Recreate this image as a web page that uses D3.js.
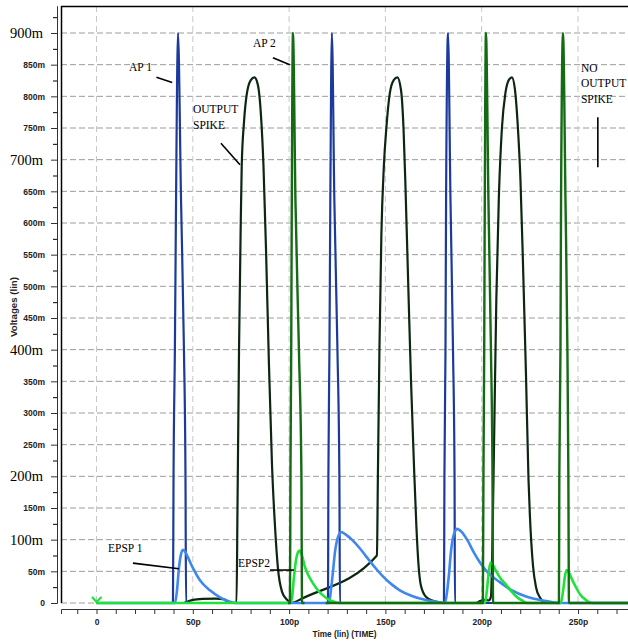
<!DOCTYPE html>
<html>
<head>
<meta charset="utf-8">
<script src="https://cdn.jsdelivr.net/npm/d3@7"></script>
<style>
  body { margin: 0; background: #fff; }
  svg { display: block; }
</style>
</head>
<body>
<div id="chart"></div>
<script>
const width = 628;
const height = 641;
const plotLeft = 61;
const plotRight = 628;
const plotTop = 6;

// time in ps, voltage in mV
var yTicks = [0, 50, 100, 150, 200, 250, 300, 350, 400, 450, 500, 550, 600, 650, 700, 750, 800, 850, 900];
var yBigTicks = [100, 200, 400, 700, 900];
var xTicks = [0, 50, 100, 150, 200, 250];

// AP 1 (dark blue)
var ap1 = [[0, 0],
  [39.7, 0], [40.0, 200], [40.7, 400], [41.3, 635], [42.3, 900], [43.9, 635], [45.4, 400], [46.2, 200], [46.5, 0],
  [120.2, 0], [120.4, 200], [120.95, 400], [121.4, 635], [122.2, 900], [123.5, 635], [125.1, 400], [126.1, 200], [126.4, 0],
  [180.4, 0], [180.65, 200], [181.2, 400], [181.5, 635], [182.5, 900], [183.8, 635], [185.1, 400], [185.9, 200], [186.1, 0],
  [280, 0]];

// AP 2 (dark green)
var ap2 = [[99.5, 0],
  [100.45, 0], [100.7, 200], [101.1, 400], [101.4, 635], [102.0, 900], [103.3, 635], [105.1, 400], [106.4, 200], [106.7, 0],
  [108, 0], [113, null], [119, 0],
  [200.6, 0], [200.9, 200], [201.3, 400], [201.6, 635], [202.2, 900], [203.5, 635], [204.8, 400], [205.6, 200], [205.9, 0],
  [240.1, 0], [240.3, 200], [240.9, 400], [241.2, 635], [242.2, 900], [243.5, 635], [244.5, 400], [245.0, 200], [245.3, 0],
  [280, 0]];

// output neuron (black)
var output = [[0, 0], [45, 0], [47, 2], [50, 5], [55, 6.5], [62, 7], [66, 6], [67.5, 3], [68.5, 0],
  [72.7, 0], [73.2, 150], [74.0, 400], [74.8, 580], [75.4, 690], [76.6, 760], [78.1, 805], [80.2, 826], [82.0, 830],
  [83.8, 818], [85.4, 770], [86.7, 690], [88.0, 560], [89.5, 380], [91.1, 220], [92.7, 120], [94.2, 55],
  [96.3, 18], [98.9, 5], [101.5, 0], [103, 1.5], [106, 6], [145.6, 75],
  [146.1, 200], [146.9, 400], [147.9, 580], [149.2, 690], [150.5, 750], [152.3, 805], [154.4, 826], [156.2, 830],
  [158.1, 810], [159.4, 750], [160.4, 660], [161.7, 520], [163.3, 350], [164.8, 220], [166.1, 120], [167.2, 60],
  [168.4, 28], [171.0, 10], [175.2, 3], [179.4, 0],
  [197.0, 0], [199.1, 3], [201.7, 5], [203.7, 4], [204.8, 10], [205.6, 100], [206.4, 250], [207.6, 480], [208.9, 640],
  [210.5, 750], [212.3, 805], [214.1, 826], [215.7, 830], [217.2, 812], [218.8, 750], [220.1, 670], [221.4, 540],
  [223.0, 360], [224.3, 195], [225.0, 140], [226.6, 60], [228.2, 25], [230.2, 9], [233.3, 0],
  [280, 0]];

// EPSP 1 (light blue)
var epsp1 = [[0, 0],
  [40.75, 0], [41.8, 20], [42.8, 55], [43.8, 76], [44.9, 84], [46.2, 80], [47.5, 72], [50.1, 55], [53.7, 36],
  [58.9, 20], [64.1, 9], [68.3, 3], [72.4, 0],
  [120.7, 0], [121.7, 20], [122.8, 50], [123.8, 80], [124.8, 98], [125.9, 108], [126.9, 112], [129.5, 108],
  [132.6, 100], [136.8, 86], [140.4, 72], [144.6, 56], [148.7, 42], [153.4, 29], [157.5, 20], [163.8, 11],
  [170.5, 5], [176.7, 2], [180.9, 0],
  [181.9, 15], [183.0, 45], [184.0, 80], [185.0, 102], [186.1, 113], [187.1, 117], [189.7, 112], [192.8, 98],
  [195.9, 80], [199.1, 64], [203.2, 48], [209.4, 33], [215.7, 20], [223.4, 10], [231.8, 4], [240.6, 0],
  [280, 0]];

// EPSP 2 (bright green)
var epsp2 = [[0, 0],
  [100.45, 0], [101.5, 8], [102.5, 40], [103.6, 68], [104.6, 80], [105.4, 83], [106.4, 78], [108.2, 57],
  [110.3, 42], [112.4, 31], [115.0, 20], [117.6, 12], [120.2, 6], [123.3, 2], [126.4, 0],
  [201.7, 0], [202.7, 20], [203.7, 50], [204.6, 64], [205.8, 60], [207.7, 49], [210.0, 38], [212.9, 28],
  [215.2, 19], [218.1, 10], [220.9, 4], [223.5, 0],
  [241.1, 0], [242.2, 18], [243.2, 42], [244.1, 52], [245.3, 48], [246.8, 38], [248.9, 25], [251.0, 14],
  [253.6, 6], [256.2, 1], [258.2, 0],
  [280, 0]];

// annotations: text lines [t, v, text] and pointer segments [t1, v1, t2, v2]
var labels = [[16.9, 840, "AP 1"], [81.2, 878, "AP 2"], [50.1, 774, "OUTPUT"], [50.1, 748, "SPIKE"],
  [251.5, 838, "NO"], [251.5, 815, "OUTPUT"], [251.5, 790, "SPIKE"],
  [6.0, 80, "EPSP 1"], [73.5, 57, "EPSP2"]];
var pointers = [[31.1, 830, 39.3, 822], [91.6, 861, 100.4, 850], [64.6, 726, 74.5, 692],
  [260.3, 767, 260.3, 688], [18.9, 63, 42.8, 54], [90.1, 52, 102.5, 52]];

var svg = d3.select("#chart").append("svg")
    .attr("width", width)
    .attr("height", height);

var x = d3.scaleLinear().domain([0, 250]).range([96.5, 578]);
var y = d3.scaleLinear().domain([0, 900]).range([603, 33]);

svg.append("defs").append("clipPath").attr("id", "plot")
  .append("rect")
    .attr("x", plotLeft).attr("y", plotTop)
    .attr("width", plotRight - plotLeft).attr("height", 603 - plotTop + 3);

// grid
svg.append("g").selectAll("line").data(yTicks).join("line")
    .attr("x1", plotLeft).attr("x2", plotRight)
    .attr("y1", d => y(d)).attr("y2", d => y(d))
    .attr("stroke", "#9c9c9c").attr("stroke-dasharray", "6,3");

svg.append("g").selectAll("line").data(xTicks).join("line")
    .attr("x1", d => x(d)).attr("x2", d => x(d))
    .attr("y1", plotTop).attr("y2", y(0))
    .attr("stroke", "#c8c8c8").attr("stroke-dasharray", "6,4");

// frame
svg.append("line").attr("x1", plotLeft).attr("x2", plotRight).attr("y1", plotTop + 0.5).attr("y2", plotTop + 0.5)
    .attr("stroke", "#000").attr("stroke-width", 1.5);
svg.append("line").attr("x1", plotLeft + 0.5).attr("x2", plotLeft + 0.5).attr("y1", plotTop).attr("y2", y(0))
    .attr("stroke", "#000").attr("stroke-width", 1.5);

// y axis
var yAxisScale = y.copy().domain([0, y.invert(plotTop)]).range([603, plotTop]);
svg.append("g")
    .attr("transform", "translate(57,0)")
    .call(d3.axisLeft(yAxisScale).tickValues(d3.range(25, 950, 50)).tickSize(4).tickSizeOuter(0).tickFormat(""))
    .call(g => g.select(".domain").attr("stroke", "#333"));

var yAx = svg.append("g")
    .attr("transform", "translate(57,0)")
    .call(d3.axisLeft(yAxisScale).tickValues(yTicks).tickSize(6).tickSizeOuter(0)
      .tickFormat(d => d === 0 ? "0" : d + "m"));
yAx.select(".domain").attr("stroke", "#333");
yAx.selectAll("line").attr("stroke", "#333");
yAx.selectAll("text")
    .attr("x", -12)
    .attr("font-family", "'Liberation Sans Narrow', 'Liberation Sans', Arial, sans-serif")
    .attr("font-weight", "bold")
    .attr("font-size", 8.5)
    .attr("fill", "#222");
yAx.selectAll(".tick").filter(d => yBigTicks.includes(d)).select("text")
    .attr("x", -14)
    .attr("font-family", "'Liberation Serif', 'Times New Roman', serif")
    .attr("font-weight", "normal")
    .attr("font-size", 14.5)
    .attr("fill", "#000");

// x axis
var xAxisScale = x.copy().domain([x.invert(plotLeft), x.invert(plotRight)]).range([plotLeft, plotRight]);
var xAx = svg.append("g")
    .attr("transform", "translate(0,609)")
    .call(d3.axisBottom(xAxisScale).tickValues(d3.range(-10, 280, 10)).tickSize(5).tickSizeOuter(5)
      .tickFormat(d => xTicks.includes(d) ? (d === 0 ? "0" : d + "p") : ""));
xAx.selectAll("path, line").attr("stroke", "#333");
xAx.selectAll("text")
    .attr("y", 10)
    .attr("font-family", "'Liberation Sans Narrow', 'Liberation Sans', Arial, sans-serif")
    .attr("font-weight", "bold")
    .attr("font-size", 8.5)
    .attr("fill", "#222");

svg.append("text")
    .attr("x", (plotLeft + plotRight) / 2).attr("y", 637)
    .attr("text-anchor", "middle")
    .attr("font-family", "'Liberation Sans Narrow', 'Liberation Sans', Arial, sans-serif")
    .attr("font-weight", "bold").attr("font-size", 8.5).attr("fill", "#222")
    .attr("textLength", 64).attr("lengthAdjust", "spacingAndGlyphs")
    .text("Time (lin) (TIME)");

svg.append("text")
    .attr("transform", "translate(17,307) rotate(-90)")
    .attr("text-anchor", "middle")
    .attr("font-family", "'Liberation Sans Narrow', 'Liberation Sans', Arial, sans-serif")
    .attr("font-weight", "bold").attr("font-size", 8.5).attr("fill", "#222")
    .attr("textLength", 60).attr("lengthAdjust", "spacingAndGlyphs")
    .text("Voltages (lin)");

// traces
var line = d3.line()
    .defined(d => d[1] !== null)
    .x(d => x(d[0]))
    .y(d => y(d[1]))
    .curve(d3.curveMonotoneX);

var traces = svg.append("g").attr("clip-path", "url(#plot)");

var series = [
  [output, "#0d2612", 2.2],
  [ap1, "#1b3a9c", 2.2],
  [epsp1, "#3f86ee", 2.6],
  [epsp2, "#1ee23a", 2.6],
  [ap2, "#146b14", 2.4]
];
series.forEach(function(s) {
  traces.append("path")
      .attr("d", line(s[0]))
      .attr("fill", "none")
      .attr("stroke", s[1])
      .attr("stroke-width", s[2])
      .attr("stroke-linejoin", "round");
});

// marker at t = 0
svg.append("path")
    .attr("d", "M" + (x(0) - 4.5) + "," + (y(0) - 6) + "L" + x(0) + "," + (y(0) - 1) + "L" + (x(0) + 5) + "," + (y(0) - 6))
    .attr("fill", "none").attr("stroke", "#1ee23a").attr("stroke-width", 2.2);

// annotations
svg.append("g").selectAll("line").data(pointers).join("line")
    .attr("x1", d => x(d[0])).attr("y1", d => y(d[1]))
    .attr("x2", d => x(d[2])).attr("y2", d => y(d[3]))
    .attr("stroke", "#000").attr("stroke-width", 1.6);

svg.append("g").selectAll("text").data(labels).join("text")
    .attr("x", d => x(d[0])).attr("y", d => y(d[1]))
    .attr("font-family", "'Liberation Serif', 'Times New Roman', serif")
    .attr("font-size", 11.5)
    .attr("fill", "#000")
    .text(d => d[2]);
</script>
</body>
</html>
